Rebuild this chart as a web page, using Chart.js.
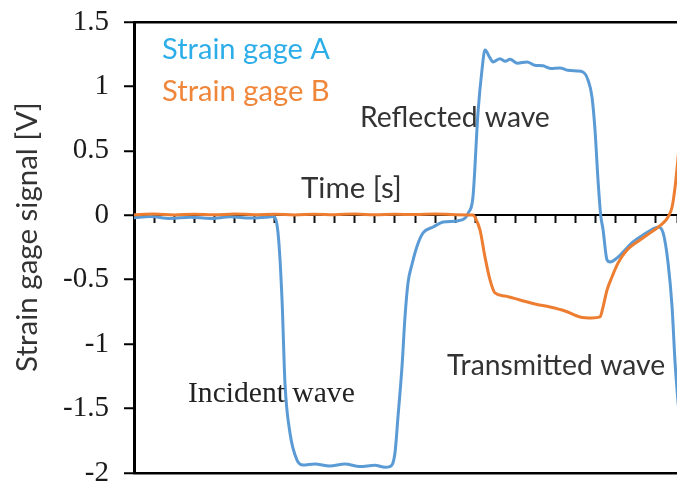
<!DOCTYPE html>
<html>
<head>
<meta charset="utf-8">
<script src="https://cdn.jsdelivr.net/npm/chart.js@4.4.1/dist/chart.umd.min.js"></script>
<style>
  html, body { margin: 0; padding: 0; background: #fff; }
</style>
</head>
<body>
<canvas id="chart" width="677" height="482"></canvas>
<script>
// time axis in µs (ticks every 20, no labels shown)
const timeA = [0, 16, 36, 56, 76, 96, 116, 131, 138.5, 143.5, 147.5, 150.4, 155.4, 162.4, 168.4, 180, 195, 210, 225, 240, 250, 255,
  260, 263, 267, 270, 273, 277, 282, 288, 298, 308, 322, 330, 333, 337.7, 342.7, 346.7, 349.7, 354.7, 357.7, 364.6, 370, 374.6, 382,
  391.5, 399, 407.5, 415, 424.4, 432, 441.4, 447.3, 452.3, 456.3, 459.3, 462.3, 465, 467.3, 471.3, 474.3, 481.3, 487.3, 497.2, 507.2,
  517.2, 522.2, 527.2, 532.1, 536.1, 539.1, 544, 550];
const gageA = [-0.02, -0.01, -0.025, -0.015, -0.025, -0.012, -0.022, -0.015, -0.01, -0.137, -0.657, -1.30, -1.69, -1.90, -1.938, -1.93,
  -1.945, -1.93, -1.95, -1.94, -1.955, -1.95, -1.845, -1.565, -1.177, -0.789, -0.525, -0.38, -0.24, -0.137, -0.091, -0.052, -0.044,
  -0.021, 0.018, 0.142, 0.794, 1.128, 1.283, 1.221, 1.19, 1.215, 1.195, 1.21, 1.18, 1.19, 1.165, 1.16, 1.14, 1.143, 1.125, 1.12,
  1.112, 1.05, 0.918, 0.662, 0.274, 0.0, -0.11, -0.347, -0.362, -0.331, -0.285, -0.207, -0.153, -0.106, -0.091, -0.137, -0.37,
  -0.712, -1.146, -1.6, -1.85];

const timeB = [0, 20, 40, 60, 80, 100, 120, 140, 160, 180, 200, 220, 240, 260, 280, 300, 320, 337.7, 340.7, 344.7, 349.7, 354.7,
  359.6, 369.6, 384.6, 399.5, 414.5, 429.4, 444.4, 456.3, 464.3, 467.3, 471.3, 476.2, 482.2, 491.2, 501.2, 511.2, 521.1, 527.2,
  532.1, 536.1, 539.1, 544, 550];
const gageB = [0.005, 0.01, 0.003, 0.008, 0.004, 0.01, 0.005, 0.008, 0.003, 0.009, 0.005, 0.01, 0.004, 0.008, 0.006, 0.01, 0.005,
  0.002, -0.03, -0.114, -0.324, -0.502, -0.603, -0.626, -0.657, -0.689, -0.712, -0.743, -0.789, -0.797, -0.789, -0.712, -0.58,
  -0.479, -0.371, -0.27, -0.207, -0.153, -0.099, -0.06, -0.013, 0.064, 0.22, 0.6, 1.0];

const yTicks = [-2, -1.5, -1, -0.5, 0, 0.5, 1, 1.5];
const yTitle = "Strain gage signal [V]";

const labels = [
  { text: "Strain gage A", x: 162, y: 59, w: 168, font: "Lato", color: "#2eaee8" },
  { text: "Strain gage B", x: 162, y: 101, w: 168, font: "Lato", color: "#f0863a" },
  { text: "Reflected wave", x: 360, y: 127, w: 190, font: "Lato", color: "#333" },
  { text: "Time [s]", x: 301, y: 198, w: 101, font: "Lato", color: "#333" },
  { text: "Transmitted wave", x: 447, y: 375, w: 218, font: "Lato", color: "#333" },
  { text: "Incident wave", x: 188, y: 402, w: 167, font: "Liberation Serif", color: "#222" },
];

function fitFont(ctx, text, family, width) {
  ctx.font = `30px "${family}"`;
  const size = 30 * width / ctx.measureText(text).width;
  ctx.font = `${size.toFixed(1)}px "${family}"`;
}

const textPlugin = {
  id: "notes",
  afterDatasetsDraw(chart) {
    const ctx = chart.ctx;
    ctx.save();
    ctx.textBaseline = "alphabetic";
    ctx.textAlign = "left";
    labels.forEach((l) => {
      fitFont(ctx, l.text, l.font, l.w);
      ctx.fillStyle = l.color;
      ctx.fillText(l.text, l.x, l.y);
    });
    // y axis title, rotated
    ctx.translate(37, 237);
    ctx.rotate(-Math.PI / 2);
    ctx.textAlign = "center";
    fitFont(ctx, yTitle, "Lato", 270);
    ctx.fillStyle = "#333";
    ctx.fillText(yTitle, 0, 0);
    ctx.restore();
  },
};

const toPoints = (xs, ys) => xs.map((x, i) => ({ x, y: ys[i] }));

new Chart(document.getElementById("chart"), {
  type: "line",
  data: {
    datasets: [
      { label: "Strain gage A", data: toPoints(timeA, gageA), borderColor: "#5b9bd5", borderWidth: 3, order: 2 },
      { label: "Strain gage B", data: toPoints(timeB, gageB), borderColor: "#ed7d31", borderWidth: 3, order: 1 },
    ],
  },
  options: {
    responsive: false,
    animation: false,
    devicePixelRatio: 1,
    layout: { padding: { top: 22, bottom: 9, left: 0, right: 0 } },
    elements: {
      point: { radius: 0 },
      line: { cubicInterpolationMode: "monotone", fill: false },
    },
    plugins: { legend: { display: false }, tooltip: { enabled: false } },
    scales: {
      x: {
        type: "linear",
        min: 0,
        max: 541,
        position: { y: 0 },
        ticks: { display: false, stepSize: 20 },
        grid: { drawOnChartArea: false, drawTicks: true, tickLength: 7, tickColor: "#111", tickWidth: 2 },
        border: { color: "#000", width: 2 },
        afterFit: (s) => { s.paddingLeft = 0; s.paddingRight = 0; },
      },
      y: {
        type: "linear",
        min: -2,
        max: 1.5,
        afterBuildTicks: (s) => { s.ticks = yTicks.map((v) => ({ value: v })); },
        ticks: {
          font: { family: "Liberation Serif", size: 29 },
          color: "#1a1a1a",
          padding: 15,
          callback: (v) => String(v),
        },
        grid: {
          color: (c) => (c.tick && (c.tick.value === 1.5 || c.tick.value === -2) ? "#000" : "rgba(0,0,0,0)"),
          lineWidth: 2.5,
          tickColor: "#000",
          tickWidth: 2,
          tickLength: 10,
        },
        border: { color: "#000", width: 3 },
        afterFit: (s) => { s.width = 134; s.paddingTop = 0; s.paddingBottom = 0; },
      },
    },
  },
  plugins: [textPlugin],
});
</script>
</body>
</html>
